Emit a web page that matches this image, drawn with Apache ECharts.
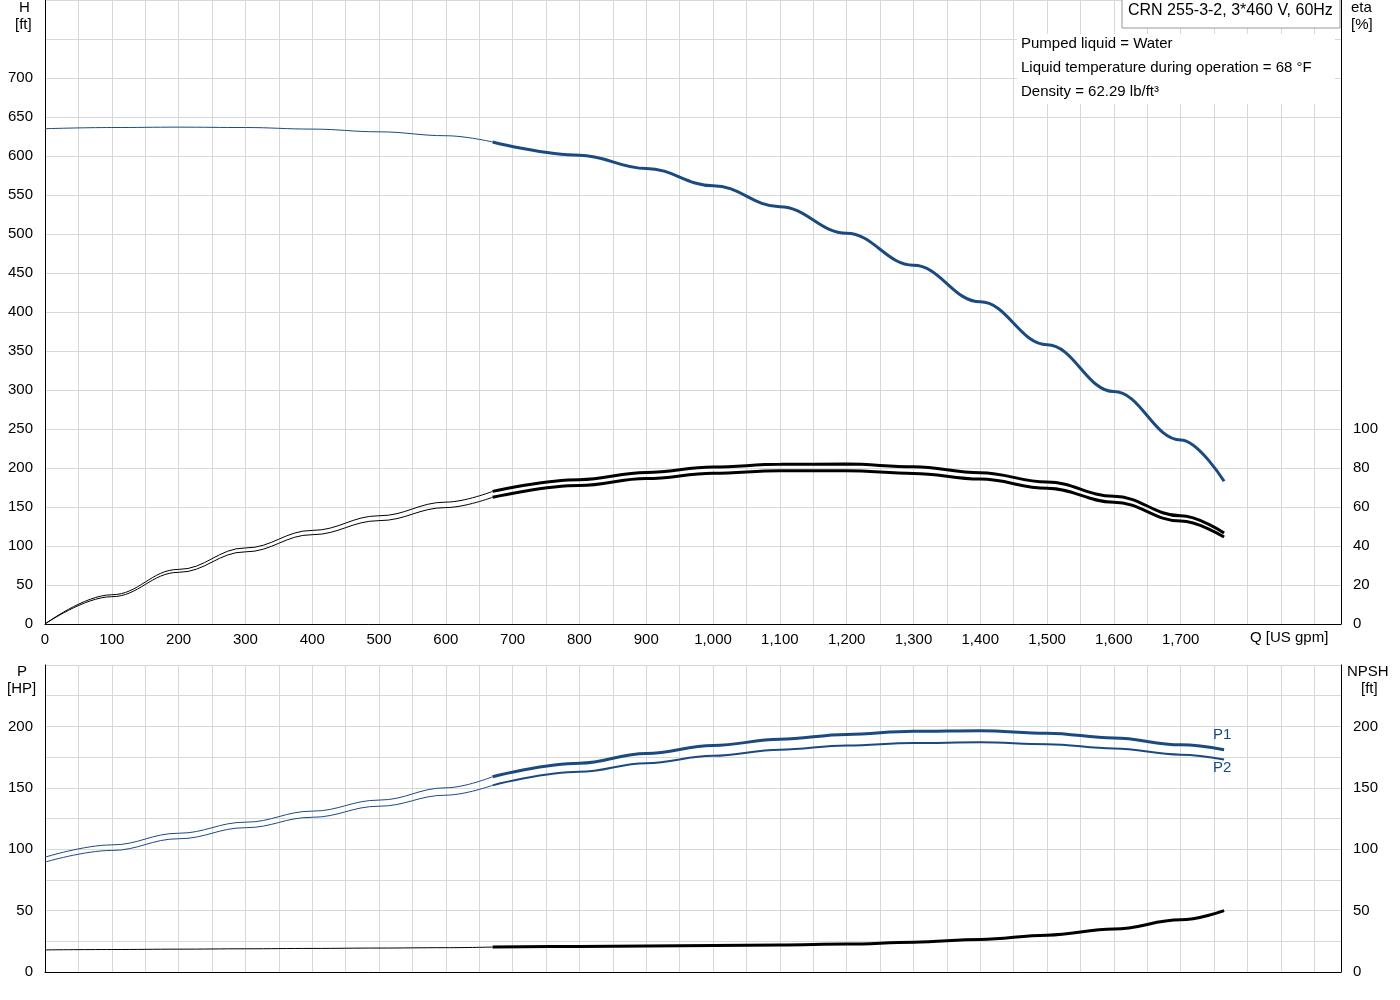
<!DOCTYPE html><html><head><meta charset="utf-8"><script src="https://cdn.jsdelivr.net/npm/echarts@6/dist/echarts.min.js"></script></head><body style="margin:0"><div id="c" style="width:1400px;height:1000px"></div><script>
const qH=[0,100,200,300,400,500,600,670,800,900,1000,1100,1200,1300,1400,1500,1600,1700,1765];
const H=[635,636.5,637,636.5,634.5,631,626,618,601,584,562,535,501,460,413,358,298,236,183];
const etaQ=[0,100,200,300,400,500,600,670,800,900,1000,1100,1200,1300,1400,1500,1600,1700,1765];
const eta1=[0,15,28,39,48,55.5,62.5,68,74,77.7,80.5,81.9,82,80.6,77.6,72.8,65.5,55.5,46.7];
const eta2=[0,14,26.5,37,45.8,53,59.7,65,71,74.6,77.3,78.6,78.6,77.2,74.3,69.6,62.5,52.8,44.6];
const qP=[0,100,200,300,400,500,600,670,800,900,1000,1100,1200,1300,1400,1500,1600,1700,1765];
const P1=[93.5,103.5,113,122,131,140,150,159,170,178,184.5,189.5,193.5,196,196.5,194.5,190.5,185,181];
const P2=[89.5,99,108.5,117.5,126,135,144,152,163,170,176,181,184.5,186.5,187,185.5,182,177,173];
const NPSH=[18,18.3,18.6,18.9,19.2,19.5,19.8,20.3,20.8,21.2,21.6,22,22.8,24.2,26.5,30,35,42.5,50];
const SPLIT=670;
function part(xs,ys,thick){const r=[];xs.forEach((x,i)=>{if(thick?x>=SPLIT:x<=SPLIT)r.push([x,ys[i]]);});return r;}
const blue='#1a4a80';
const axisX=(gi,show)=>({type:'value',gridIndex:gi,min:0,max:1940,interval:50,axisLine:{show:true,onZero:false,lineStyle:{color:'#000'}},axisTick:{show:false},splitLine:{lineStyle:{color:'#d8d8d8'}},axisLabel:{show:show,color:'#000',fontSize:15,formatter:v=>(v%100===0&&v<=1700)?v.toLocaleString('en-US'):''}});
const yax=(gi,max,iv,pos,lblMax,show,tick)=>({type:'value',gridIndex:gi,position:pos,min:0,max:max,interval:iv,axisLine:{show:true,lineStyle:{color:'#000'}},axisTick:{show:tick,length:5,lineStyle:{color:'#000'}},splitLine:{show:show,lineStyle:{color:'#d8d8d8'}},axisLabel:{color:'#000',fontSize:15,margin:12,formatter:v=>(v<=lblMax&&v%(pos==='right'&&gi===0?20:50)===0)?String(v):''}});
function S(name,xi,yi,data,color,w){return {name,type:'line',xAxisIndex:xi,yAxisIndex:yi,data,smooth:0.4,smoothMonotone:'x',symbol:'none',lineStyle:{color,width:w},z:3};}
const series=[
S('H',0,0,part(qH,H,false),blue,1),S('H',0,0,part(qH,H,true),blue,3),
S('e1',0,1,part(etaQ,eta1,false),'#000',1),S('e1',0,1,part(etaQ,eta1,true),'#000',3),
S('e2',0,1,part(etaQ,eta2,false),'#000',1),S('e2',0,1,part(etaQ,eta2,true),'#000',3),
S('P1',1,2,part(qP,P1,false),blue,1),S('P1',1,2,part(qP,P1,true),blue,3),
S('P2',1,2,part(qP,P2,false),blue,1),S('P2',1,2,part(qP,P2,true),blue,2),
S('N',1,3,part(qP,NPSH,false),'#000',1),S('N',1,3,part(qP,NPSH,true),'#000',3)
];
const tx=(x,y,t,o)=>Object.assign({type:'text',left:x,top:y,style:Object.assign({text:t,fontSize:15,fill:'#000',fontFamily:'Arial'},o||{})});
const opt={animation:false,textStyle:{fontFamily:'Arial'},
grid:[{left:45,right:59,top:0,height:624},{left:45,right:59,top:665,height:307}],
xAxis:[axisX(0,true),axisX(1,false)],
yAxis:[yax(0,800,50,'left',700,true,false),yax(0,320,20,'right',100,false,false),yax(1,250,25,'left',200,true,false),yax(1,250,25,'right',200,false,false)],
series,
graphic:[
tx(19,0,'H'),tx(15,17,'[ft]'),tx(1351,0,'eta'),tx(1351,17,'[%]'),
tx(1250,630,'Q [US gpm]'),tx(17,664,'P'),tx(7,681,'[HP]'),tx(1347,664,'NPSH'),tx(1361,681,'[ft]'),
tx(1213,727,'P1',{fill:blue}),tx(1213,760,'P2',{fill:blue}),
{type:'rect',shape:{x:1122,y:-1,width:218,height:29},style:{fill:'#fff',stroke:'#999'},z:10},
tx(1128,3,'CRN 255-3-2, 3*460 V, 60Hz',{fontSize:16}),
{type:'rect',shape:{x:1017,y:34,width:318,height:70},style:{fill:'#fff'},z:9},
tx(1021,36,'Pumped liquid = Water'),tx(1021,60,'Liquid temperature during operation = 68 °F'),tx(1021,84,'Density = 62.29 lb/ft³')
].map(g=>Object.assign({z:10},g))};
echarts.init(document.getElementById('c')).setOption(opt);
</script></body></html>
